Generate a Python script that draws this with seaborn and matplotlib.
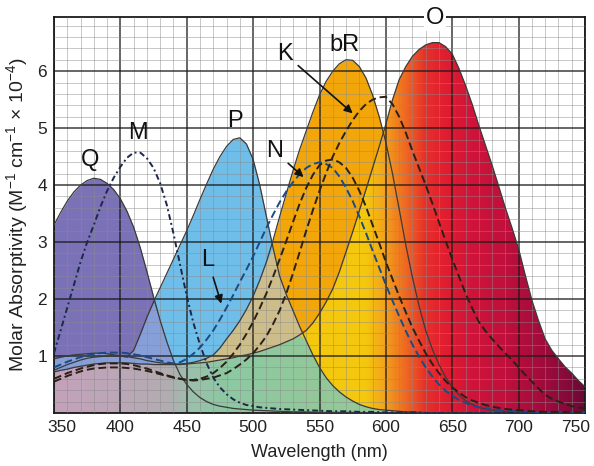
import numpy as np
import pandas as pd
import matplotlib
matplotlib.use("Agg")
import matplotlib.pyplot as plt
import matplotlib.transforms as mtransforms
import seaborn as sns
from matplotlib.colors import LinearSegmentedColormap
from matplotlib.patches import Polygon

# ---------------- data (every 5 nm) ----------------
wavelength = [350, 355, 360, 365, 370, 375, 380, 385, 390, 395,
              400, 405, 410, 415, 420, 425, 430, 435, 440, 445,
              450, 455, 460, 465, 470, 475, 480, 485, 490, 495,
              500, 505, 510, 515, 520, 525, 530, 535, 540, 545,
              550, 555, 560, 565, 570, 575, 580, 585, 590, 595,
              600, 605, 610, 615, 620, 625, 630, 635, 640, 645,
              650, 655, 660, 665, 670, 675, 680, 685, 690, 695,
              700, 705, 710, 715, 720, 725, 730, 735, 740, 745,
              750]

Q = [3.30, 3.52, 3.72, 3.88, 4.00, 4.08, 4.12, 4.10, 4.03, 3.92,
     3.76, 3.54, 3.26, 2.90, 2.48, 2.04, 1.62, 1.25, 0.92, 0.67,
     0.50, 0.37, 0.27, 0.20, 0.15, 0.12, 0.10, 0.08, 0.07, 0.06,
     0.05, 0.045, 0.04, 0.035, 0.03, 0.025, 0.02, 0.02, 0.02, 0.015,
     0.01, 0.01, 0.01, 0.01, 0.01, 0.01, 0.01, 0.005, 0, 0,
     0, 0, 0, 0, 0, 0, 0, 0, 0, 0,
     0, 0, 0, 0, 0, 0, 0, 0, 0, 0,
     0, 0, 0, 0, 0, 0, 0, 0, 0, 0,
     0]

P = [0.95, 0.98, 1.00, 1.02, 1.03, 1.04, 1.05, 1.05, 1.04, 1.02,
     1.00, 0.98, 1.10, 1.38, 1.68, 1.95, 2.20, 2.45, 2.70, 2.95,
     3.20, 3.47, 3.75, 4.02, 4.28, 4.50, 4.68, 4.80, 4.83, 4.72,
     4.45, 4.00, 3.45, 2.90, 2.40, 2.08, 1.80, 1.52, 1.27, 1.02,
     0.80, 0.62, 0.48, 0.37, 0.28, 0.21, 0.15, 0.11, 0.08, 0.06,
     0.05, 0.04, 0.03, 0.02, 0.02, 0.01, 0.01, 0, 0, 0,
     0, 0, 0, 0, 0, 0, 0, 0, 0, 0,
     0, 0, 0, 0, 0, 0, 0, 0, 0, 0,
     0]

bR = [0.75, 0.80, 0.85, 0.89, 0.93, 0.96, 0.98, 0.99, 1.00, 1.00,
      1.00, 0.99, 0.97, 0.95, 0.92, 0.90, 0.88, 0.87, 0.86, 0.86,
      0.87, 0.89, 0.92, 0.96, 1.02, 1.14, 1.30, 1.45, 1.62, 1.82,
      2.05, 2.33, 2.65, 3.03, 3.45, 3.85, 4.25, 4.62, 4.95, 5.28,
      5.58, 5.82, 6.00, 6.13, 6.20, 6.19, 6.08, 5.88, 5.58, 5.20,
      4.75, 4.20, 3.58, 2.95, 2.38, 1.88, 1.45, 1.12, 0.85, 0.63,
      0.45, 0.32, 0.22, 0.15, 0.10, 0.07, 0.05, 0.04, 0.03, 0.02,
      0.02, 0.01, 0.01, 0.01, 0.01, 0, 0, 0, 0, 0,
      0]

O = [0.72, 0.75, 0.77, 0.80, 0.82, 0.84, 0.86, 0.87, 0.88, 0.88,
     0.88, 0.88, 0.87, 0.86, 0.86, 0.85, 0.85, 0.85, 0.85, 0.85,
     0.86, 0.87, 0.88, 0.89, 0.91, 0.93, 0.95, 0.97, 1.00, 1.02,
     1.05, 1.08, 1.12, 1.16, 1.20, 1.25, 1.30, 1.37, 1.45, 1.58,
     1.75, 1.95, 2.18, 2.48, 2.83, 3.18, 3.55, 3.92, 4.30, 4.68,
     5.07, 5.50, 5.85, 6.08, 6.26, 6.38, 6.46, 6.50, 6.50, 6.43,
     6.30, 6.05, 5.75, 5.42, 5.05, 4.70, 4.35, 3.98, 3.60, 3.25,
     2.88, 2.42, 1.98, 1.62, 1.30, 1.10, 0.95, 0.81, 0.70, 0.57,
     0.46]

M = [1.05, 1.45, 1.85, 2.25, 2.65, 3.00, 3.30, 3.62, 3.90, 4.13,
     4.32, 4.48, 4.57, 4.57, 4.47, 4.30, 4.03, 3.65, 3.15, 2.60,
     2.05, 1.58, 1.20, 0.87, 0.62, 0.45, 0.33, 0.24, 0.18, 0.14,
     0.12, 0.10, 0.09, 0.08, 0.07, 0.065, 0.06, 0.055, 0.05, 0.045,
     0.04, 0.035, 0.03, 0.03, 0.03, 0.025, 0.02, 0.02, 0.02, 0.015,
     0.01, 0.01, 0.01, 0.01, 0.01, 0.01, 0, 0, 0, 0,
     0, 0, 0, 0, 0, 0, 0, 0, 0, 0,
     0, 0, 0, 0, 0, 0, 0, 0, 0, 0,
     0]

L = [0.80, 0.85, 0.90, 0.94, 0.98, 1.01, 1.03, 1.05, 1.06, 1.06,
     1.06, 1.05, 1.03, 1.01, 0.98, 0.95, 0.92, 0.89, 0.87, 0.89,
     0.95, 1.04, 1.15, 1.29, 1.45, 1.64, 1.85, 2.07, 2.30, 2.52,
     2.75, 3.00, 3.25, 3.48, 3.70, 3.89, 4.05, 4.19, 4.30, 4.37,
     4.40, 4.37, 4.30, 4.15, 3.95, 3.72, 3.45, 3.16, 2.85, 2.55,
     2.25, 1.97, 1.70, 1.44, 1.20, 0.99, 0.80, 0.64, 0.50, 0.39,
     0.30, 0.23, 0.18, 0.13, 0.10, 0.08, 0.06, 0.05, 0.04, 0.035,
     0.03, 0.025, 0.02, 0.015, 0.01, 0.01, 0.01, 0.01, 0.01, 0.01,
     0.01]

N = [0.60, 0.65, 0.70, 0.74, 0.78, 0.81, 0.84, 0.86, 0.87, 0.87,
     0.87, 0.86, 0.84, 0.81, 0.78, 0.74, 0.70, 0.66, 0.63, 0.60,
     0.58, 0.58, 0.60, 0.64, 0.70, 0.79, 0.90, 1.04, 1.20, 1.39,
     1.60, 1.84, 2.10, 2.39, 2.70, 3.02, 3.35, 3.67, 3.95, 4.18,
     4.35, 4.43, 4.45, 4.40, 4.30, 4.13, 3.90, 3.62, 3.30, 2.98,
     2.65, 2.35, 2.05, 1.77, 1.50, 1.27, 1.05, 0.86, 0.70, 0.56,
     0.45, 0.36, 0.28, 0.22, 0.18, 0.14, 0.11, 0.09, 0.07, 0.06,
     0.05, 0.04, 0.03, 0.025, 0.02, 0.02, 0.02, 0.015, 0.01, 0.01,
     0.01]

K = [0.55, 0.60, 0.65, 0.69, 0.73, 0.76, 0.78, 0.79, 0.80, 0.80,
     0.80, 0.79, 0.78, 0.76, 0.74, 0.71, 0.68, 0.65, 0.62, 0.60,
     0.58, 0.57, 0.58, 0.60, 0.62, 0.66, 0.70, 0.77, 0.85, 0.94,
     1.05, 1.19, 1.35, 1.56, 1.80, 2.10, 2.45, 2.82, 3.20, 3.56,
     3.90, 4.21, 4.50, 4.74, 4.95, 5.14, 5.30, 5.42, 5.50, 5.54,
     5.55, 5.42, 5.20, 4.92, 4.60, 4.30, 4.00, 3.68, 3.35, 3.02,
     2.70, 2.40, 2.10, 1.84, 1.60, 1.44, 1.30, 1.17, 1.05, 0.93,
     0.80, 0.67, 0.55, 0.43, 0.32, 0.25, 0.20, 0.16, 0.12, 0.10,
     0.08]

x_ticks = [350, 400, 450, 500, 550, 600, 650, 700, 750]
y_ticks = [1, 2, 3, 4, 5, 6]

# ---------------- styling ----------------
sns.set_theme(style="white")
plt.rcParams['font.family'] = ['Liberation Sans', 'DejaVu Sans']
plt.rcParams['mathtext.fontset'] = 'custom'
plt.rcParams['mathtext.rm'] = 'Liberation Sans'
plt.rcParams['mathtext.it'] = 'Liberation Sans:italic'
plt.rcParams['mathtext.bf'] = 'Liberation Sans:bold'

fig = plt.figure(figsize=(5.94, 4.66), dpi=100)
ax = fig.add_axes([54 / 594, 1 - 413 / 466, 531 / 594, 396 / 466])

x = np.array(wavelength, float)
q, p, br, o = (np.array(v, float) for v in (Q, P, bR, O))
zero = np.zeros_like(x)


def grad_fill(lower, upper, stops, z):
    verts = np.concatenate([np.column_stack([x, upper]),
                            np.column_stack([x[::-1], lower[::-1]])])
    poly = Polygon(verts, closed=True, fc='none', ec='none')
    ax.add_patch(poly)
    cmap = LinearSegmentedColormap.from_list(
        'g', [((w - 350) / 400, c) for w, c in stops])
    im = ax.imshow(np.linspace(0, 1, 800).reshape(1, -1),
                   extent=[350, 750, 0, 7], aspect='auto', cmap=cmap,
                   interpolation='bilinear', zorder=z)
    im.set_clip_path(poly)


O_stops = [(350, '#f3c818'), (585, '#f5c80e'), (600, '#f2a01c'),
           (615, '#ee6a22'), (630, '#e8302a'), (645, '#e01e30'),
           (665, '#d0143a'), (690, '#c0103c'), (715, '#a50c3c'),
           (735, '#8a0a3a'), (750, '#6e0836')]
OP_stops = [(350, '#c4a2ba'), (400, '#bba7b8'), (435, '#b2acb0'),
            (455, '#98c2aa'), (480, '#8cc8a2'), (540, '#92c99a'),
            (750, '#a0c890')]

grad_fill(zero, o, O_stops, 1.0)
grad_fill(zero, np.minimum(o, p), OP_stops, 1.1)
ax.fill_between(x, o, br, where=br > o, interpolate=True,
                color='#f2a60a', lw=0, zorder=1.2)
ax.fill_between(x, o, p, where=p > o, interpolate=True,
                color='#6fbde9', lw=0, zorder=1.3)
pb = np.minimum(p, br)
ax.fill_between(x, o, pb, where=pb > o, interpolate=True,
                color='#cdbd8a', lw=0, zorder=1.4)
ax.fill_between(x, o, q, where=q > o, interpolate=True,
                color='#7a71b6', lw=0, zorder=1.5)
qp = np.minimum(q, p)
ax.fill_between(x, o, qp, where=qp > o, interpolate=True,
                color='#879fd9', lw=0, zorder=1.6)

# outlines of the filled spectra
for vals in (Q, P, bR, O):
    sns.lineplot(x=wavelength, y=vals, ax=ax, color='#3a3a3a', lw=0.9,
                 zorder=3)

# dashed spectra
dashed = [(M, '#1c2848', (0, (3.0, 1.6, 1.0, 1.6))),
          (L, '#1b4a84', (0, (4.0, 2.0))),
          (N, '#2a2018', (0, (4.0, 2.0))),
          (K, '#2a2018', (0, (4.0, 2.0)))]
for vals, col, ls in dashed:
    sns.lineplot(x=wavelength, y=vals, ax=ax, color=col, lw=1.4, zorder=3.2)
    ax.lines[-1].set_linestyle(ls)

ax.set_xlim(350, 750)
ax.set_ylim(0, 6.95)
ax.set_xticks(x_ticks)
ax.set_xticks(np.arange(350, 751, 10), minor=True)
ax.set_yticks(y_ticks)
ax.set_yticks(np.arange(0, 7.0, 0.2), minor=True)
ax.set_axisbelow(False)
ax.grid(which='major', color='#1a1a1a', lw=1.1, alpha=0.85)
ax.grid(which='minor', color='#8a8a8a', lw=0.6, alpha=0.55)
ax.tick_params(which='both', length=0, labelsize=12.5, pad=5,
               labelcolor='#222222')
for s in ax.spines.values():
    s.set_color('#1a1a1a')
    s.set_linewidth(1.3)
    s.set_visible(True)

# pull the outermost x tick labels inward as in the reference
xlabels = ax.get_xticklabels()
xlabels[0].set_transform(xlabels[0].get_transform() +
                         mtransforms.ScaledTranslation(8 / 100, 0, fig.dpi_scale_trans))
xlabels[-1].set_transform(xlabels[-1].get_transform() +
                          mtransforms.ScaledTranslation(-9 / 100, 0, fig.dpi_scale_trans))

ax.set_xlabel('Wavelength (nm)', fontsize=13, color='#222222')
ax.xaxis.set_label_coords(0.5, -0.078)
ax.set_ylabel('Molar Absorptivity (M$^{-1}$ cm$^{-1}$ × 10$^{-4}$)',
              fontsize=14, color='#222222')
ax.yaxis.set_label_coords(-0.045, 0.5)

# labels
lab = dict(fontsize=17, ha='center', va='center', color='#111111',
           zorder=6)
ax.text(377, 4.44, 'Q', **lab)
ax.text(413, 4.91, 'M', **lab)
ax.text(486, 5.12, 'P', **lab)
ax.text(569, 6.45, 'bR', **lab)
ax.text(637, 6.93, 'O', clip_on=False,
        bbox=dict(fc='white', ec='none', pad=1.5), **lab)
arw = dict(arrowstyle='-|>', color='#111111', lw=1.2, mutation_scale=12,
           shrinkA=2, shrinkB=0)
ax.annotate('K', xy=(575, 5.26), xytext=(524, 6.3), arrowprops=arw, **lab)
ax.annotate('N', xy=(538, 4.14), xytext=(516, 4.6), arrowprops=arw, **lab)
ax.annotate('L', xy=(476, 1.92), xytext=(466, 2.68), arrowprops=arw, **lab)

fig.savefig('out.png', dpi=100)
